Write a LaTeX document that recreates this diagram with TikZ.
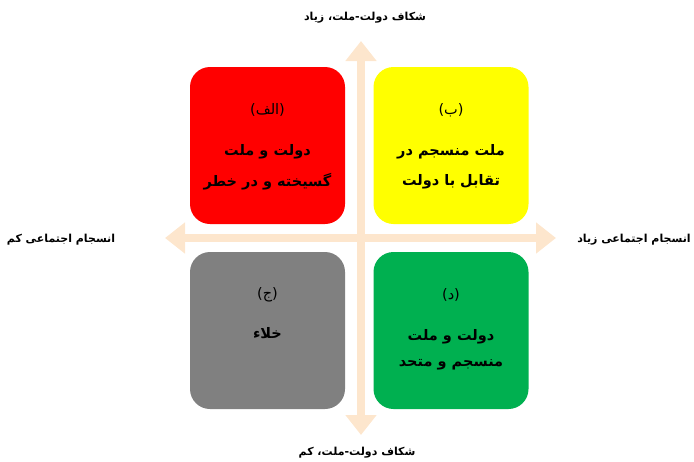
\documentclass[tikz,border=0pt]{standalone}
\usepackage{fontspec}
\usetikzlibrary{arrows.meta}
\TeXXeTstate=1
\newfontfamily\arabicfont[Script=Arabic]{DejaVu Sans}
\definecolor{axiscol}{RGB}{253,230,205}
\definecolor{boxred}{RGB}{255,0,0}
\definecolor{boxyellow}{RGB}{255,255,0}
\definecolor{boxgray}{RGB}{128,128,128}
\definecolor{boxgreen}{RGB}{0,176,80}
\tikzset{
  axisarrow/.style={draw=axiscol, line width=8.5pt,
    {Triangle[width=30pt,length=20pt,fill=axiscol]}-{Triangle[width=30pt,length=20pt,fill=axiscol]}},
  quad/.style={rounded corners=20pt, minimum width=155pt, minimum height=157pt, inner sep=0pt, draw=none},
  boxtitle/.style={font=\arabicfont\fontsize{14.5}{16}\selectfont, inner sep=0pt, text=black},
  boxtxt/.style={font=\arabicfont\bfseries\fontsize{14.5}{17}\selectfont, inner sep=0pt, text=black},
  axlabel/.style={font=\arabicfont\bfseries\fontsize{11}{13}\selectfont, inner sep=0pt, text=black}
}
\begin{document}
\begin{tikzpicture}[x=1pt,y=-1pt]
\useasboundingbox (0,0) rectangle (694,461);
% axes
\coordinate (left) at (165,238);
\coordinate (right) at (556,238);
\coordinate (top) at (361,41);
\coordinate (bottom) at (361,435);
\draw[axisarrow] (left) -- (right);
\draw[axisarrow] (bottom) -- (top);
% boxes
\node[quad, fill=boxred] (A) at (267.5,145.5) {};
\node[quad, fill=boxyellow] (B) at (451,145.5) {};
\node[quad, fill=boxgray] (C) at (267.5,330.5) {};
\node[quad, fill=boxgreen] (D) at (451,330.5) {};
% box texts
\node[boxtitle] (A1) at (267.5,110) {\beginR(الف)\endR};
\node[boxtxt] (A2) at (267.5,152) {\beginR دولت و ملت\endR};
\node[boxtxt] (A3) at (267.5,182) {\beginR گسیخته و در خطر\endR};
\node[boxtitle] (B1) at (451,110) {\beginR(ب)\endR};
\node[boxtxt] (B2) at (451,152) {\beginR ملت منسجم در\endR};
\node[boxtxt] (B3) at (451,182) {\beginR تقابل با دولت\endR};
\node[boxtitle] (C1) at (267.5,295) {\beginR(ج)\endR};
\node[boxtxt] (C2) at (267.5,333) {\beginR خلاء\endR};
\node[boxtitle] (D1) at (451,295) {\beginR(د)\endR};
\node[boxtxt] (D2) at (451,337) {\beginR دولت و ملت\endR};
\node[boxtxt] (D3) at (451,365) {\beginR منسجم و متحد\endR};
% axis labels
\node[axlabel] (Ltop) at (365,18) {\beginR شکاف دولت-ملت، زیاد\endR};
\node[axlabel] (Lbot) at (357,453) {\beginR شکاف دولت-ملت، کم\endR};
\node[axlabel] (Lleft) at (61,240) {\beginR انسجام اجتماعی کم\endR};
\node[axlabel] (Lright) at (634,240) {\beginR انسجام اجتماعی زیاد\endR};
\end{tikzpicture}
\end{document}
